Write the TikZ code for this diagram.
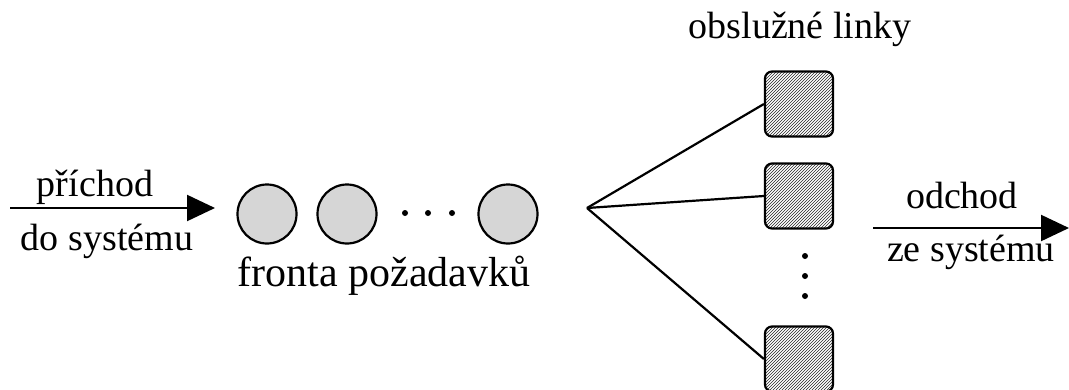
\documentclass[tikz,border=0pt]{standalone}
\usepackage{fontspec}
\setmainfont{Liberation Serif}
\usetikzlibrary{arrows.meta,patterns}
\begin{document}
\begin{tikzpicture}[x=1pt,y=-1pt,
  lbl/.style={font=\fontsize{38}{40}\selectfont, anchor=base, inner sep=0pt},
  biglbl/.style={lbl, font=\fontsize{42}{44}\selectfont},
  queue/.style={circle, draw, line width=2.2pt, fill=black!16, minimum width=59pt, inner sep=0pt},
  server/.style={draw, line width=2.2pt, rounded corners=7pt, minimum width=68pt, minimum height=65pt, inner sep=0pt, pattern=north east lines, pattern color=black!85},
  conn/.style={line width=2.2pt},
  flow/.style={line width=2.2pt, -{Triangle[length=28pt,width=26pt]}},
  dot/.style={circle, fill=black, inner sep=0pt, minimum size=6pt}]
\clip (0,0) rectangle (1069,389);
% queue
\node[queue] (q1) at (267,214) {};
\node[queue] (q2) at (347,214) {};
\node[queue] (q3) at (508,214) {};
\node[dot] (h1) at (405,213) {};
\node[dot] (h2) at (428,213) {};
\node[dot] (h3) at (452,213) {};
\node[biglbl] (fronta) at (384,286) {fronta požadavků};
% servers
\node[server] (s1) at (799,104) {};
\node[server] (s2) at (799,196) {};
\node[server] (s3) at (799,359) {};
\node[dot] (v1) at (805,256) {};
\node[dot] (v2) at (805,276) {};
\node[dot] (v3) at (805,296) {};
\node[lbl] (obsl) at (800,38) {obslužné linky};
% fork
\coordinate (fork) at (587,208);
\draw[conn] (fork) -- (s1.west);
\draw[conn] (fork) -- (s2.west);
\draw[conn] (fork) -- (s3.west);
% input arrow
\coordinate (inA) at (10,208);
\coordinate (inB) at (215,208);
\draw[flow] (inA) -- (inB);
\node[lbl] (prich) at (95,196) {příchod};
\node[lbl] (dosys) at (107,250) {do systému};
% output arrow
\coordinate (outA) at (873,228);
\coordinate (outB) at (1069,228);
\draw[flow] (outA) -- (outB);
\node[lbl] (odch) at (962,208) {odchod};
\node[lbl] (zesys) at (971,261) {ze systému};
\end{tikzpicture}
\end{document}
